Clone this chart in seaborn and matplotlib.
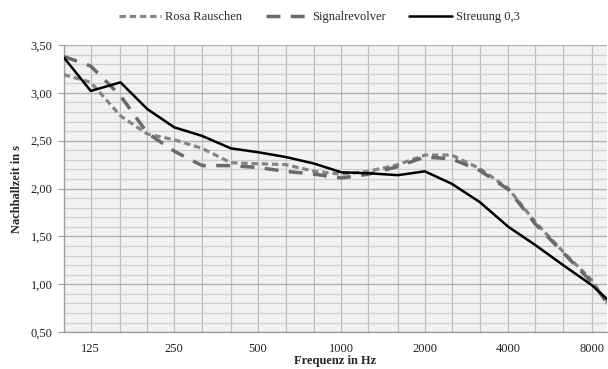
import numpy as np
import pandas as pd
import matplotlib
matplotlib.use("Agg")
import matplotlib.pyplot as plt
import seaborn as sns
from matplotlib.ticker import FixedLocator, NullFormatter, FixedFormatter, MultipleLocator

freqs = [100, 125, 160, 200, 250, 315, 400, 500, 630, 800, 1000, 1250,
         1600, 2000, 2500, 3150, 4000, 5000, 6300, 8000, 10000]
rosa = [3.19, 3.11, 2.76, 2.57, 2.51, 2.42, 2.27, 2.26, 2.25, 2.18, 2.15, 2.18,
        2.25, 2.35, 2.35, 2.21, 2.00, 1.65, 1.34, 1.04, 0.63]
signal = [3.38, 3.28, 2.97, 2.58, 2.39, 2.24, 2.24, 2.22, 2.18, 2.15, 2.11, 2.15,
          2.23, 2.33, 2.31, 2.19, 1.99, 1.63, 1.33, 1.02, 0.64]
streuung = [3.37, 3.02, 3.11, 2.83, 2.64, 2.55, 2.42, 2.38, 2.33, 2.26, 2.17, 2.16,
            2.14, 2.18, 2.05, 1.86, 1.60, 1.41, 1.20, 0.99, 0.73]
series_names = ["Rosa Rauschen", "Signalrevolver", "Streuung 0,3"]
xtick_vals = [125, 250, 500, 1000, 2000, 4000, 8000]
xtick_labels = ["125", "250", "500", "1000", "2000", "4000", "8000"]
ytick_vals = [0.5, 1.0, 1.5, 2.0, 2.5, 3.0, 3.5]
ytick_labels = ["0,50", "1,00", "1,50", "2,00", "2,50", "3,00", "3,50"]

df = pd.DataFrame({
    "f": freqs * 3,
    "t": rosa + signal + streuung,
    "s": [series_names[0]] * len(freqs) + [series_names[1]] * len(freqs) + [series_names[2]] * len(freqs),
})

sns.set_style("white")
plt.rcParams["font.family"] = ["Liberation Serif", "DejaVu Serif"]

fig = plt.figure(figsize=(6.08, 3.69), dpi=100)
ax = fig.add_axes([0.105, 0.100, 0.893, 0.778])
ax.set_facecolor("#f2f2f2")

palette = {series_names[0]: "#858585", series_names[1]: "#6a6a6a", series_names[2]: "#000000"}
sns.lineplot(data=df, x="f", y="t", hue="s", palette=palette, ax=ax, legend=False,
             sort=False)
lines = ax.get_lines()
styles = [((0, (2.0, 1.2)), 2.3), ((0, (4.0, 3.0)), 2.5), ("-", 1.8)]
for ln, (ls, lw) in zip(lines, styles):
    ln.set_linestyle(ls)
    ln.set_linewidth(lw)
    ln.set_zorder(3)

ax.set_xscale("log")
ax.set_xlim(100, 9050)
ax.set_ylim(0.5, 3.5)

ax.xaxis.set_major_locator(FixedLocator(xtick_vals))
ax.xaxis.set_major_formatter(FixedFormatter(xtick_labels))
ax.xaxis.set_minor_locator(FixedLocator(freqs[:-1]))
ax.xaxis.set_minor_formatter(NullFormatter())
ax.yaxis.set_major_locator(FixedLocator(ytick_vals))
ax.yaxis.set_major_formatter(FixedFormatter(ytick_labels))
ax.yaxis.set_minor_locator(MultipleLocator(0.1))

ax.grid(True, which="major", axis="y", color="#b0b0b0", lw=1.0, zorder=0)
ax.grid(True, which="minor", axis="y", color="#cfcfcf", lw=0.9, zorder=0)
ax.grid(True, which="both", axis="x", color="#bdbdbd", lw=0.9, zorder=0)
ax.set_axisbelow(True)

ax.tick_params(axis="x", which="both", length=4, color="#a0a0a0", labelsize=9, pad=4, labelcolor="#222222")
ax.tick_params(axis="y", which="major", length=4, color="#a0a0a0", labelsize=9, pad=4, labelcolor="#222222", left=True)
ax.tick_params(axis="y", which="minor", length=0)

for side in ["top", "right"]:
    ax.spines[side].set_visible(False)
for side in ["left", "bottom"]:
    ax.spines[side].set_color("#a0a0a0")
    ax.spines[side].set_linewidth(1.0)

ax.set_xlabel("Frequenz in Hz", fontweight="bold", fontsize=9, labelpad=0)
ax.set_ylabel("Nachhallzeit in s", fontweight="bold", fontsize=9, labelpad=6)

leg = fig.legend(lines, series_names, loc="upper center", bbox_to_anchor=(0.525, 1.0),
                 ncol=3, frameon=False, fontsize=9, handlelength=3.4, columnspacing=1.9,
                 handletextpad=0.3)

fig.savefig("out.png", dpi=100)
